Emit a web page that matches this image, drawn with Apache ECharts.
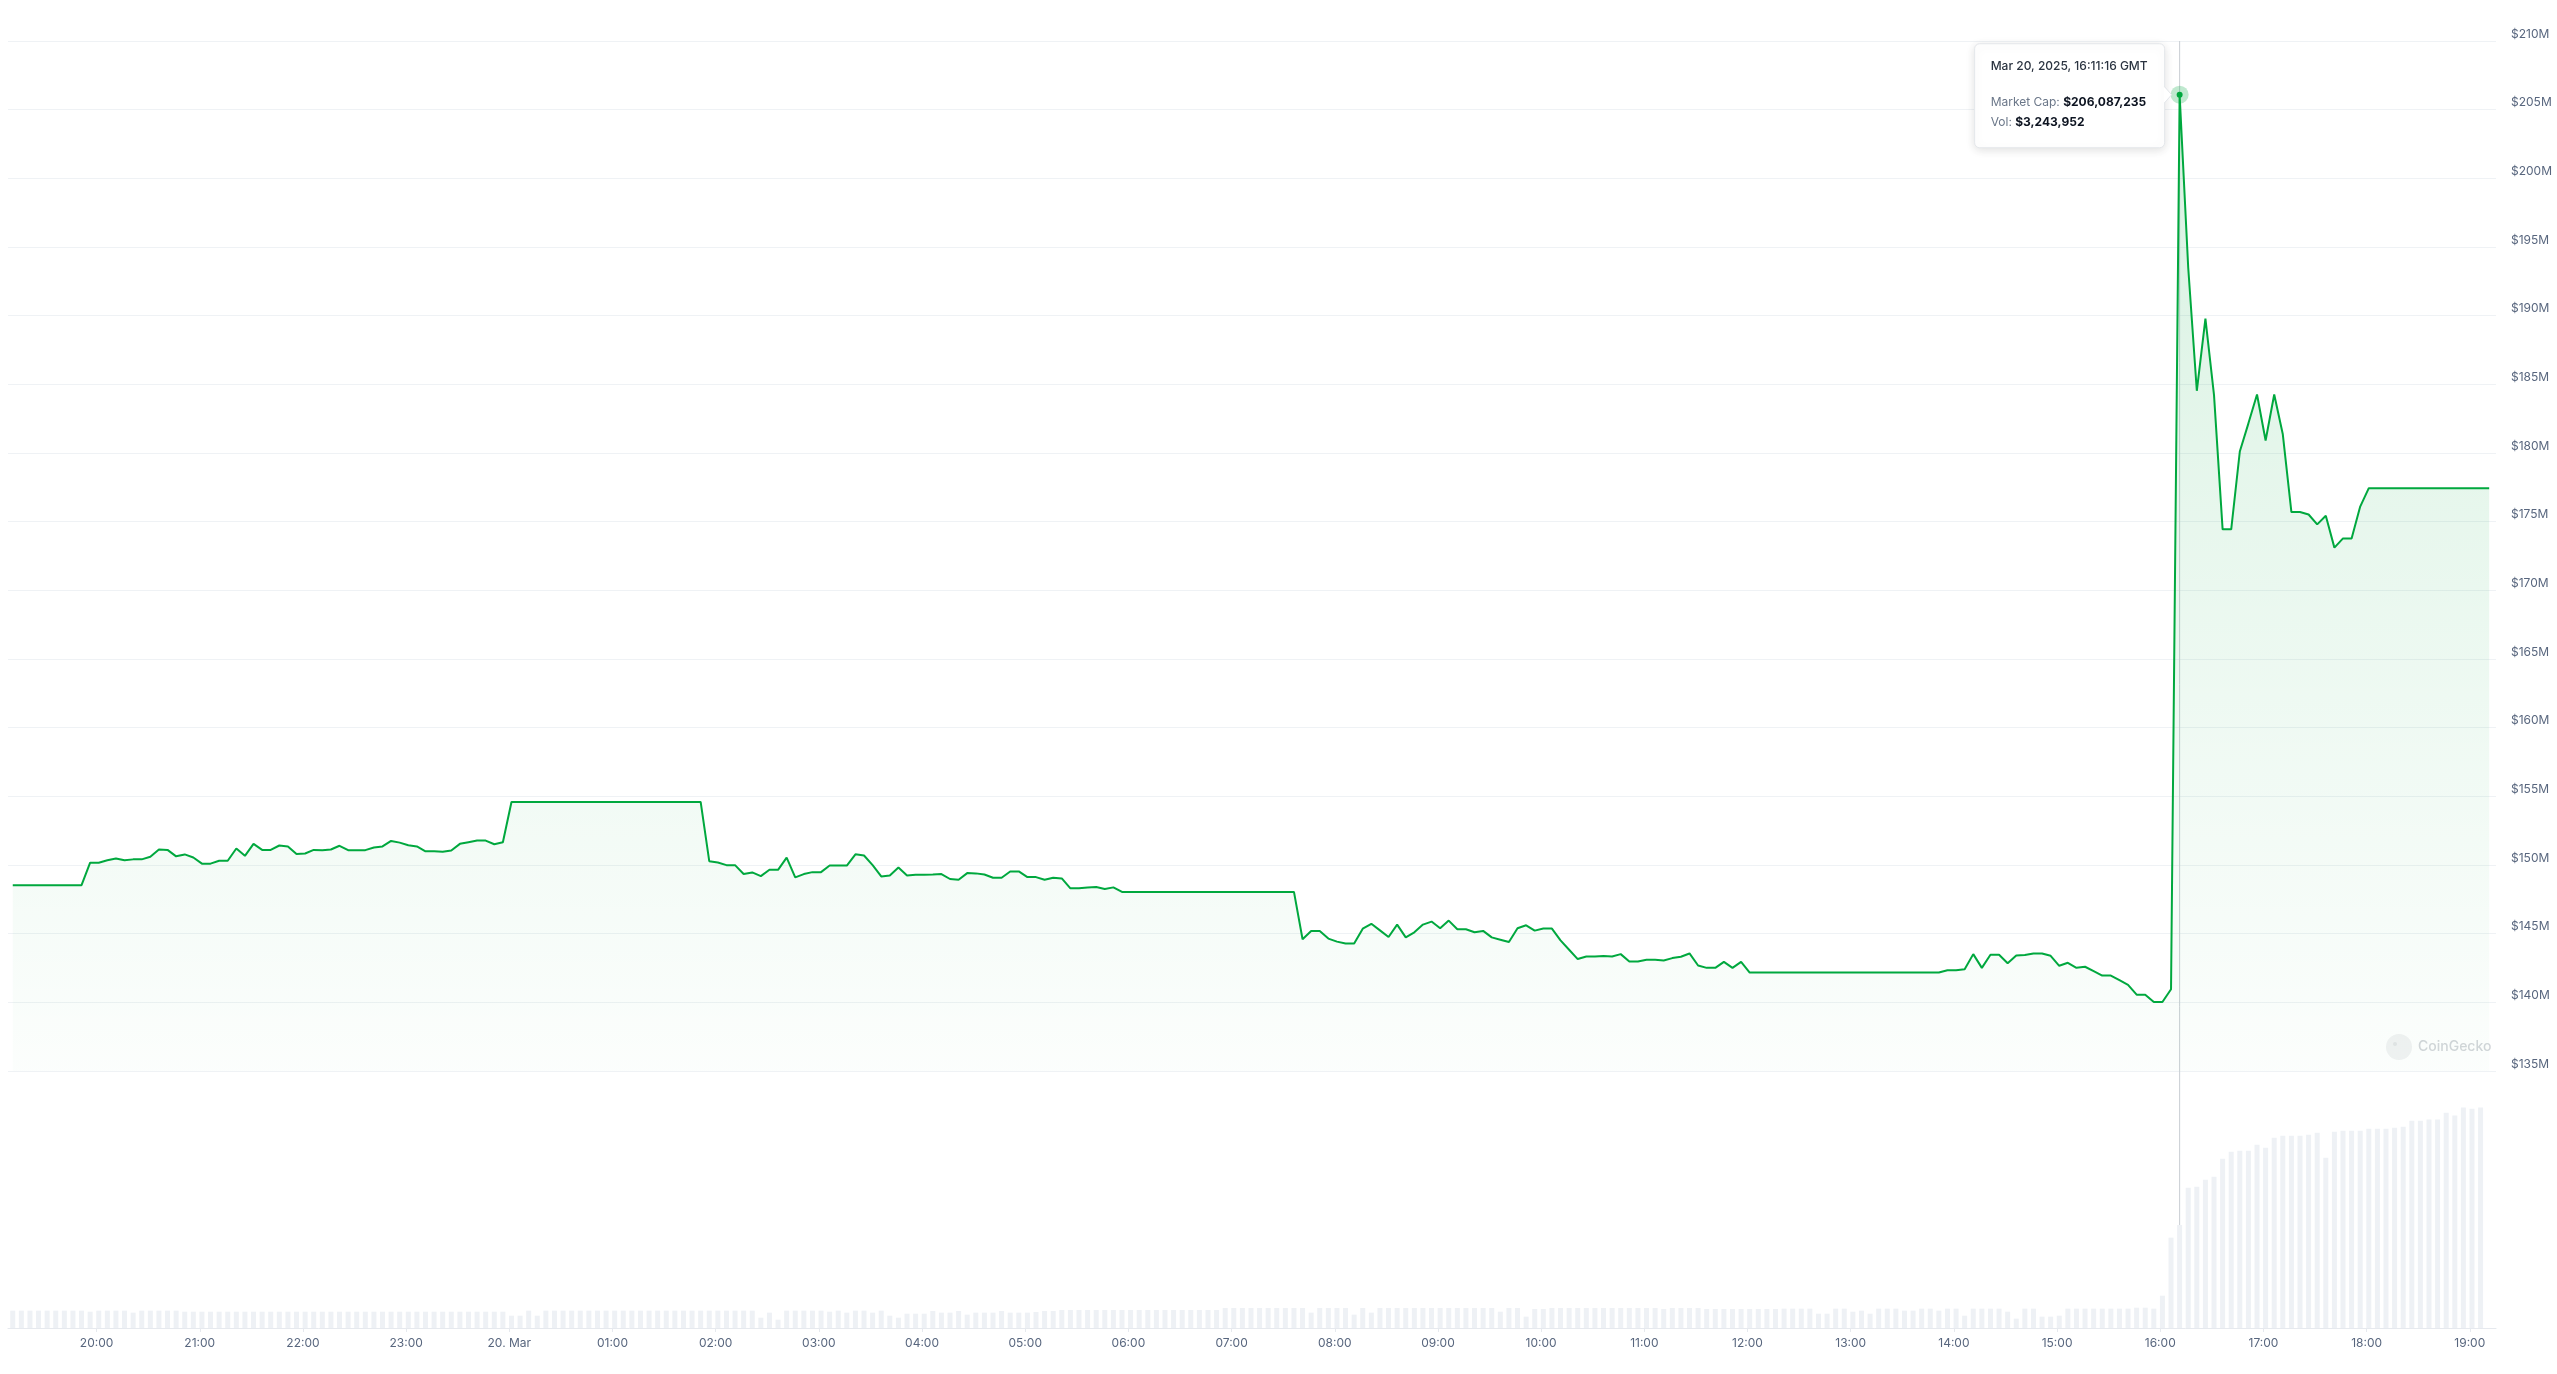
<!DOCTYPE html>
<html><head><meta charset="utf-8">
<script src="https://cdn.jsdelivr.net/npm/echarts@6/dist/echarts.min.js"></script>
<style>html,body{margin:0;padding:0;background:#fff;}#chart{width:2557px;height:1374px;}</style>
</head><body><div id="chart"></div>
<script>
// ---- data (market cap in $M, volume in $M), 5-minute samples ----
const START_UTC = '2025-03-19T19:11:16Z';
const STEP_MIN = 5;
const marketCapM = [
148.53,148.53,148.53,148.53,148.53,148.53,148.53,148.53,148.53,
150.17,150.17,150.34,150.48,150.34,150.41,150.41,150.60,151.13,151.10,
150.63,150.77,150.55,150.10,150.10,150.31,150.31,151.20,150.67,151.54,
151.10,151.10,151.42,151.35,150.80,150.84,151.10,151.08,151.13,151.40,
151.08,151.08,151.08,151.27,151.35,151.75,151.63,151.44,151.35,151.00,
151.00,150.96,151.06,151.54,151.66,151.78,151.78,151.51,151.66,
154.59,154.59,154.59,154.59,154.59,154.59,154.59,154.59,154.59,154.59,154.59,154.59,
154.59,154.59,154.59,154.59,154.59,154.59,154.59,154.59,154.59,154.59,154.59,
150.28,150.18,149.99,149.99,149.34,149.46,149.19,149.65,149.65,150.54,
149.10,149.34,149.48,149.48,149.96,149.96,149.96,150.78,150.69,149.99,
149.17,149.24,149.82,149.24,149.29,149.29,149.31,149.34,148.98,148.93,
149.41,149.39,149.31,149.07,149.07,149.53,149.53,149.12,149.12,148.93,
149.07,149.02,148.30,148.30,148.37,148.40,148.25,148.37,
148.04,148.04,148.04,148.04,148.04,148.04,148.04,148.04,148.04,148.04,148.04,
148.04,148.04,148.04,148.04,148.04,148.04,148.04,148.04,148.04,148.04,
144.59,145.19,145.19,144.64,144.42,144.28,144.28,145.36,145.72,145.24,
144.76,145.66,144.73,145.10,145.66,145.88,145.39,145.95,145.32,145.32,
145.10,145.20,144.73,144.56,144.39,145.39,145.61,145.22,145.37,145.37,
144.51,143.83,143.15,143.34,143.34,143.37,143.34,143.51,142.98,142.98,
143.10,143.10,143.05,143.22,143.32,143.56,142.68,142.51,142.51,142.95,
142.51,142.95,
142.17,142.17,142.17,142.17,142.17,142.17,142.17,142.17,142.17,142.17,142.17,142.17,
142.17,142.17,142.17,142.17,142.17,142.17,142.17,142.17,142.17,142.17,142.17,
142.34,142.34,142.41,143.51,142.51,143.46,143.46,142.85,143.41,143.44,
143.56,143.56,143.39,142.66,142.88,142.51,142.59,142.27,141.95,141.95,
141.61,141.27,140.56,140.56,140.02,140.02,140.95,
206.087235,193.49,184.53,189.79,184.21,174.44,174.44,180.11,182.16,184.26,
180.91,184.26,181.36,175.70,175.70,175.52,174.80,175.43,173.11,173.78,
173.78,176.10,
177.44,177.44,177.44,177.44,177.44,177.44,177.44,177.44,177.44,177.44,177.44,177.44,177.44,177.44,177.44
];
const volumeM = [
0.546,0.546,0.546,0.546,0.546,0.546,0.546,0.546,0.546,0.514,
0.546,0.546,0.546,0.546,0.483,0.546,0.546,0.546,0.546,0.546,
0.514,0.514,0.514,0.514,0.514,0.514,0.514,0.514,0.514,0.514,
0.514,0.514,0.514,0.514,0.514,0.514,0.514,0.514,0.514,0.514,
0.514,0.514,0.514,0.514,0.514,0.514,0.514,0.514,0.514,0.514,
0.514,0.514,0.514,0.514,0.514,0.514,0.514,0.514,0.388,0.388,
0.546,0.388,0.546,0.546,0.546,0.546,0.546,0.546,0.546,0.546,
0.546,0.546,0.546,0.546,0.546,0.546,0.546,0.546,0.546,0.546,
0.546,0.546,0.546,0.546,0.546,0.546,0.546,0.325,0.483,0.262,
0.546,0.546,0.546,0.546,0.546,0.514,0.546,0.483,0.546,0.546,
0.483,0.546,0.388,0.325,0.451,0.451,0.451,0.535,0.483,0.483,
0.535,0.420,0.483,0.483,0.483,0.535,0.483,0.483,0.483,0.504,
0.535,0.535,0.567,0.567,0.567,0.567,0.567,0.567,0.567,0.567,
0.567,0.567,0.567,0.567,0.567,0.567,0.567,0.567,0.567,0.567,
0.567,0.630,0.630,0.630,0.630,0.630,0.630,0.630,0.630,0.630,
0.630,0.483,0.630,0.630,0.630,0.630,0.420,0.630,0.483,0.630,
0.630,0.630,0.630,0.630,0.630,0.630,0.630,0.630,0.630,0.630,
0.630,0.630,0.630,0.514,0.630,0.630,0.357,0.598,0.598,0.630,
0.630,0.630,0.630,0.630,0.630,0.630,0.630,0.630,0.630,0.630,
0.630,0.630,0.598,0.630,0.630,0.630,0.630,0.598,0.598,0.598,
0.598,0.598,0.598,0.598,0.598,0.598,0.609,0.609,0.609,0.609,
0.451,0.451,0.609,0.609,0.514,0.546,0.451,0.609,0.609,0.609,
0.546,0.546,0.609,0.609,0.546,0.609,0.609,0.388,0.609,0.609,
0.609,0.609,0.514,0.294,0.609,0.609,0.357,0.357,0.388,0.609,
0.609,0.609,0.609,0.609,0.609,0.609,0.609,0.640,0.640,0.609,
1.018,2.845,3.243952,4.420,4.451,4.672,4.766,5.333,5.554,5.585,
5.585,5.774,5.680,5.995,6.058,6.058,6.058,6.089,6.152,5.365,
6.184,6.215,6.215,6.215,6.278,6.278,6.278,6.310,6.341,6.530,
6.530,6.562,6.562,6.782,6.688,6.940,6.908,6.940,null
];
const tickTimesUTC = [
'2025-03-19T20:00:00Z','2025-03-19T21:00:00Z','2025-03-19T22:00:00Z','2025-03-19T23:00:00Z',
'2025-03-20T00:00:00Z','2025-03-20T01:00:00Z','2025-03-20T02:00:00Z','2025-03-20T03:00:00Z',
'2025-03-20T04:00:00Z','2025-03-20T05:00:00Z','2025-03-20T06:00:00Z','2025-03-20T07:00:00Z',
'2025-03-20T08:00:00Z','2025-03-20T09:00:00Z','2025-03-20T10:00:00Z','2025-03-20T11:00:00Z',
'2025-03-20T12:00:00Z','2025-03-20T13:00:00Z','2025-03-20T14:00:00Z','2025-03-20T15:00:00Z',
'2025-03-20T16:00:00Z','2025-03-20T17:00:00Z','2025-03-20T18:00:00Z','2025-03-20T19:00:00Z'
];
const tickLabels = ['20:00','21:00','22:00','23:00','20. Mar','01:00','02:00','03:00','04:00','05:00','06:00','07:00',
'08:00','09:00','10:00','11:00','12:00','13:00','14:00','15:00','16:00','17:00','18:00','19:00'];
const HOVER_INDEX = 252;

// ---- build ----
const FONT = 'Inter, "Noto Sans", sans-serif';
const t0 = Date.parse(START_UTC);
const times = marketCapM.map((_, i) => t0 + i * STEP_MIN * 60000);
const mcapData = marketCapM.map((v, i) => [times[i], v]);
const volData = volumeM.map((v, i) => [times[i], v]);
const tickVals = tickTimesUTC.map(s => Date.parse(s));
const xMin = Date.parse('2025-03-19T19:08:30Z');
const xMax = Date.parse('2025-03-20T19:15:14Z');

const chart = echarts.init(document.getElementById('chart'), null, {renderer: 'canvas'});
const option = {
  animation: false,
  backgroundColor: '#ffffff',
  textStyle: {fontFamily: FONT},
  grid: [
    {left: 8, right: 61, top: 41, height: 1030},
    {left: 8, right: 61, top: 1100, height: 228}
  ],
  xAxis: [
    {type: 'value', gridIndex: 0, min: xMin, max: xMax, show: false},
    {type: 'value', gridIndex: 1, min: xMin, max: xMax,
      splitLine: {show: false},
      axisLine: {show: true, lineStyle: {color: '#e6e9ee', width: 1}},
      axisTick: {show: true, customValues: tickVals, length: 4, lineStyle: {color: '#e6e9ee'}},
      axisLabel: {customValues: tickVals, formatter: v => tickLabels[tickVals.indexOf(v)],
        color: '#58667e', fontSize: 12, fontFamily: FONT, margin: 9}
    }
  ],
  yAxis: [
    {type: 'value', gridIndex: 0, position: 'right', min: 135, max: 210, interval: 5,
      splitLine: {show: true, lineStyle: {color: '#eff2f5', width: 1}},
      axisLine: {show: false}, axisTick: {show: false},
      axisLabel: {formatter: v => '$' + v + 'M', color: '#58667e', fontSize: 12, fontFamily: FONT,
        margin: 15, align: 'left', verticalAlign: 'bottom', lineHeight: 14}
    },
    {type: 'value', gridIndex: 1, min: 0, max: 7.18, show: false}
  ],
  series: [
    {type: 'line', xAxisIndex: 0, yAxisIndex: 0, data: mcapData, showSymbol: false, z: 3,
      lineStyle: {color: '#00a83e', width: 2}, itemStyle: {color: '#00a83e'},
      areaStyle: {color: new echarts.graphic.LinearGradient(0, 0, 0, 1, [
        {offset: 0, color: 'rgba(0,168,62,0.22)'},
        {offset: 1, color: 'rgba(0,168,62,0.02)'}
      ])}
    },
    {type: 'bar', xAxisIndex: 1, yAxisIndex: 1, data: volData, barWidth: 5, z: 3,
      itemStyle: {color: '#eef1f5'}}
  ]
};
chart.setOption(option);

// ---- hover state (crosshair, point, tooltip) ----
const MONTHS = ['Jan','Feb','Mar','Apr','May','Jun','Jul','Aug','Sep','Oct','Nov','Dec'];
const p2 = n => String(n).padStart(2, '0');
const hd = new Date(times[HOVER_INDEX]);
const dateText = MONTHS[hd.getUTCMonth()] + ' ' + hd.getUTCDate() + ', ' + hd.getUTCFullYear() + ', ' +
  p2(hd.getUTCHours()) + ':' + p2(hd.getUTCMinutes()) + ':' + p2(hd.getUTCSeconds()) + ' GMT';
const money = v => '$' + Math.round(v * 1e6).toLocaleString('en-US');
const [px, py] = chart.convertToPixel({seriesIndex: 0}, mcapData[HOVER_INDEX]);
const topY = chart.convertToPixel({yAxisIndex: 0}, 210);
const baseY = chart.convertToPixel({yAxisIndex: 1}, 0);
const bx = px - 205, by = py - 51;

chart.setOption({graphic: [
  {type: 'group', left: 2386, top: 1034, silent: true, z: 1, children: [
    {type: 'circle', shape: {cx: 13, cy: 13, r: 13}, style: {fill: '#f1f2f3'}},
    {type: 'circle', shape: {cx: 9, cy: 10, r: 2}, style: {fill: '#e2e4e6'}},
    {type: 'text', x: 32, y: 13, style: {text: 'CoinGecko', fill: '#d3d6da', fontSize: 14, fontWeight: 500,
      fontFamily: FONT, verticalAlign: 'middle'}}
  ]},
  {type: 'line', silent: true, z: 1, shape: {x1: px, y1: topY, x2: px, y2: baseY},
    style: {stroke: '#c9cdd3', lineWidth: 1}},
  {type: 'circle', silent: true, z: 50, shape: {cx: px, cy: py, r: 9}, style: {fill: 'rgba(0,168,62,0.25)'}},
  {type: 'circle', silent: true, z: 51, shape: {cx: px, cy: py, r: 3}, style: {fill: '#00a83e'}},
  {type: 'rect', silent: true, z: 60, shape: {x: bx, y: by, width: 190, height: 104, r: 5},
    style: {fill: '#ffffff', stroke: '#e4e7eb', lineWidth: 1, shadowBlur: 10, shadowColor: 'rgba(0,0,0,0.12)', shadowOffsetY: 2}},
  {type: 'polygon', silent: true, z: 61, shape: {points: [[px - 15.6, py - 8], [px - 8, py], [px - 15.6, py + 8]]},
    style: {fill: '#ffffff'}},
  {type: 'polyline', silent: true, z: 62, shape: {points: [[px - 15, py - 8], [px - 8, py], [px - 15, py + 8]]},
    style: {stroke: '#e4e7eb', lineWidth: 1, fill: null}},
  {type: 'text', silent: true, z: 63, x: bx + 16, y: by + 23,
    style: {text: dateText, fill: '#2b3441', fontSize: 12, fontWeight: 500, fontFamily: FONT, verticalAlign: 'middle'}},
  {type: 'text', silent: true, z: 63, x: bx + 16, y: by + 59,
    style: {text: '{l|Market Cap: }{v|' + money(marketCapM[HOVER_INDEX]) + '}', verticalAlign: 'middle',
      rich: {l: {fill: '#6b7789', fontSize: 12, fontFamily: FONT},
             v: {fill: '#0d1421', fontSize: 12, fontWeight: 'bold', fontFamily: FONT}}}},
  {type: 'text', silent: true, z: 63, x: bx + 16, y: by + 79,
    style: {text: '{l|Vol: }{v|' + money(volumeM[HOVER_INDEX]) + '}', verticalAlign: 'middle',
      rich: {l: {fill: '#6b7789', fontSize: 12, fontFamily: FONT},
             v: {fill: '#0d1421', fontSize: 12, fontWeight: 'bold', fontFamily: FONT}}}}
]});
</script></body></html>
